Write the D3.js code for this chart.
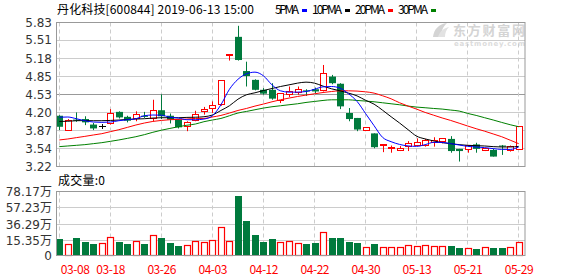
<!DOCTYPE html>
<html>
<head>
<meta charset="utf-8">
<script src="https://cdnjs.cloudflare.com/ajax/libs/d3/7.8.5/d3.min.js"></script>
<style>
  body { margin: 0; background: #fff; }
  svg { display: block; }
</style>
</head>
<body>
<div id="chart"></div>
<script>
// trading days shown on the chart
var dates = ["03-08","03-11","03-12","03-13","03-14","03-15","03-18","03-19","03-20","03-21","03-22",
  "03-25","03-26","03-27","03-28","03-29","04-01","04-02","04-03","04-04","04-08","04-09","04-10",
  "04-11","04-12","04-15","04-16","04-17","04-18","04-19","04-22","04-23","04-24","04-25","04-26",
  "04-29","04-30","05-06","05-07","05-08","05-09","05-10","05-13","05-14","05-15","05-16","05-17",
  "05-20","05-21","05-22","05-23","05-24","05-27","05-28","05-29"];

var openP  = [4.14,3.88,4.07,4.08,3.98,3.95,4.00,4.21,4.12,4.10,4.14,4.09,4.24,4.14,4.07,3.94,4.07,4.22,4.27,4.33,
  5.24,5.57,4.95,4.79,4.61,4.61,4.42,4.53,4.56,4.60,4.62,4.61,4.85,4.72,4.19,4.10,3.87,3.82,3.59,3.55,
  3.51,3.58,3.61,3.60,3.65,3.66,3.72,3.54,3.52,3.62,3.50,3.52,3.60,3.51,3.54];
var highP  = [4.15,4.08,4.20,4.13,4.01,3.99,4.26,4.22,4.14,4.22,4.21,4.43,4.53,4.18,4.08,4.04,4.23,4.30,4.40,4.77,
  5.25,5.77,5.12,4.80,4.64,4.73,4.55,4.67,4.67,4.62,4.65,5.06,4.88,4.73,4.28,4.10,3.93,3.82,3.62,3.60,
  3.59,3.68,3.73,3.72,3.75,3.73,3.77,3.54,3.60,3.65,3.55,3.54,3.61,3.60,3.95];
var lowP   = [3.88,3.87,4.03,3.97,3.88,3.90,3.98,4.09,4.02,4.04,4.10,4.04,4.08,4.00,3.91,3.86,4.04,4.16,4.19,4.32,
  5.14,5.14,4.67,4.60,4.52,4.43,4.37,4.48,4.52,4.50,4.55,4.58,4.71,4.26,4.04,3.86,3.87,3.55,3.48,3.47,
  3.50,3.50,3.59,3.58,3.58,3.64,3.47,3.31,3.47,3.47,3.50,3.40,3.43,3.49,3.53];
var closeP = [3.94,4.06,4.06,4.02,3.91,3.95,4.18,4.11,4.05,4.17,4.12,4.24,4.13,4.07,3.93,4.02,4.17,4.26,4.33,4.77,
  5.25,5.15,4.86,4.61,4.54,4.45,4.55,4.58,4.62,4.58,4.58,4.91,4.73,4.31,4.08,3.89,3.93,3.57,3.61,3.56,
  3.54,3.63,3.66,3.69,3.69,3.72,3.50,3.50,3.60,3.54,3.54,3.40,3.58,3.58,3.95];

// volume, in 万 shares
var volume = [17.7,10.1,19.0,13.9,11.3,11.3,19.0,13.9,11.3,14.8,11.3,22.5,19.0,12.6,8.8,8.8,14.8,12.6,16.1,31.8,
  14.8,72.7,40.7,22.8,13.9,17.7,13.5,14.8,11.3,11.3,12.6,26.3,19.0,19.0,13.9,12.6,6.2,11.3,7.1,6.2,
  6.2,9.7,7.9,8.8,7.5,7.5,8.8,6.2,5.0,5.0,7.1,6.2,6.2,6.2,12.6];

// moving averages
var ma5  = [4.113,4.117,4.086,4.050,4.026,4.020,4.026,4.050,4.068,4.086,4.140,4.153,4.150,4.113,4.098,4.068,4.068,4.080,4.140,4.340,
  4.620,4.800,4.900,4.930,4.863,4.700,4.592,4.568,4.568,4.579,4.620,4.664,4.670,4.640,4.538,4.400,4.180,3.960,3.748,3.670,
  3.620,3.593,3.585,3.616,3.657,3.657,3.634,3.610,3.585,3.574,3.562,3.544,3.530,3.530,3.574];
var ma10 = [4.037,4.040,4.050,4.052,4.050,4.050,4.055,4.062,4.073,4.080,4.086,4.098,4.104,4.104,4.104,4.110,4.113,4.122,4.153,4.236,
  4.321,4.440,4.520,4.556,4.597,4.634,4.670,4.700,4.731,4.749,4.731,4.677,4.628,4.592,4.550,4.500,4.420,4.350,4.240,4.122,
  4.008,3.887,3.770,3.720,3.683,3.652,3.634,3.616,3.604,3.598,3.592,3.580,3.574,3.574,3.585];
var ma20 = [3.701,3.719,3.743,3.766,3.791,3.815,3.851,3.887,3.929,3.972,4.008,4.037,4.055,4.068,4.073,4.080,4.091,4.091,4.117,4.146,
  4.189,4.236,4.272,4.315,4.352,4.393,4.429,4.460,4.489,4.514,4.538,4.561,4.579,4.592,4.592,4.587,4.574,4.550,4.502,4.447,
  4.375,4.315,4.260,4.200,4.150,4.100,4.055,4.005,3.954,3.905,3.860,3.810,3.760,3.697,3.634];
var ma30 = [3.580,3.592,3.604,3.616,3.634,3.652,3.676,3.701,3.730,3.760,3.797,3.840,3.878,3.910,3.941,3.968,3.990,4.032,4.063,4.091,
  4.140,4.189,4.218,4.249,4.279,4.303,4.321,4.339,4.357,4.381,4.399,4.417,4.429,4.429,4.429,4.417,4.406,4.393,4.375,4.357,
  4.339,4.315,4.297,4.285,4.272,4.261,4.243,4.225,4.182,4.146,4.104,4.063,4.019,3.977,3.941];

var maNames  = ["5PMA", "10PMA", "20PMA", "30PMA"];
var maColors = ["#0000ff", "#000000", "#ff0000", "#008000"];

var priceTicks = [3.22, 3.54, 3.87, 4.20, 4.53, 4.85, 5.18, 5.51, 5.83];
var volTicks   = [15.35, 36.29, 57.23, 78.17];
var dateTicks  = ["03-08","03-18","03-26","04-03","04-12","04-22","04-30","05-13","05-21","05-29"];

var RED = "#ff0000", GREEN = "#007a3d";
var W = 578, H = 276;
var left = 56, right = 525;
var pTop = 22.5, pBot = 166.5;
var vTop = 191.5, vBot = 255.5;

var svg = d3.select("#chart").append("svg")
    .attr("width", W)
    .attr("height", H);

var x = d3.scalePoint().domain(dates).range([59.3, 518.7]);
var y = d3.scaleLinear().domain([3.22, 5.83]).range([pBot, pTop]);
var yv = d3.scaleLinear().domain([-3.6, 78.17]).range([vBot, vTop]);

function px(v) { return Math.round(v - 0.5) + 0.5; }
function col(i) {
    if (closeP[i] > openP[i]) return RED;
    if (closeP[i] < openP[i]) return GREEN;
    return "#000";
}

// ---- title + legend
svg.append("text")
    .attr("x", 57).attr("y", 14)
    .attr("textLength", 197)
    .style("font-family", "'Noto Sans CJK SC', sans-serif")
    .style("font-size", "12px")
    .attr("fill", "#000")
    .text("丹化科技[600844] 2019-06-13 15:00");

var lx = 275;
maNames.forEach(function(n, i) {
    var tw = n.length * 6;
    svg.append("text")
        .attr("x", lx).attr("y", 14)
        .attr("textLength", tw)
        .style("font-family", "'Noto Sans CJK SC', sans-serif")
        .style("font-size", "12px")
        .text(n);
    svg.append("rect")
        .attr("x", lx + tw + 3).attr("y", 9)
        .attr("width", 5).attr("height", 3)
        .attr("fill", maColors[i]);
    lx += tw + 13;
});

// ---- watermark
var wm = svg.append("g").attr("fill", "#d4d4d4");
wm.append("path").attr("d", "M433,37 C434,29 439,24 447,23 C443,27 441,31 441,37 Z");
wm.append("path").attr("d", "M438,37 C440,31 444,28 449,27 C446,30 445,33 445,37 Z").attr("fill", "#e2e2e2");
wm.append("text").attr("x", 453).attr("y", 35)
    .style("font-family", "'Noto Sans CJK SC', sans-serif").style("font-size", "13px").style("font-weight", "bold")
    .attr("textLength", 72)
    .text("东方财富网");
wm.append("text").attr("x", 454).attr("y", 46)
    .style("font-family", "'DejaVu Sans', sans-serif").style("font-size", "7px").style("font-weight", "bold")
    .attr("textLength", 71).attr("fill", "#dcdcdc")
    .text("eastmoney.com");

// ---- price panel grid
var pg = svg.append("g");
pg.selectAll(".hg").data(priceTicks).enter().append("line")
    .attr("x1", left).attr("x2", right)
    .attr("y1", function(d) { return px(y(d)); })
    .attr("y2", function(d) { return px(y(d)); })
    .attr("stroke", function(d, i) { return i == 4 ? "#999" : "#ccc"; });
pg.selectAll(".vg").data(dateTicks).enter().append("line")
    .attr("x1", function(d) { return px(x(d)); })
    .attr("x2", function(d) { return px(x(d)); })
    .attr("y1", pTop).attr("y2", pBot)
    .attr("stroke", "#ccc").attr("stroke-dasharray", "4,3");

// price axis labels
var yAxis = d3.axisLeft(y).tickValues(priceTicks).tickSize(0).tickPadding(4)
    .tickFormat(function(d) { return d.toFixed(2); });
var ya = svg.append("g").attr("transform", "translate(" + left + ",0)").call(yAxis);
ya.select(".domain").remove();
ya.selectAll("text")
    .style("font-family", "'DejaVu Sans', sans-serif").style("font-size", "12px").attr("fill", "#333");

// ---- volume panel grid
var vg = svg.append("g");
vg.selectAll(".hg").data(volTicks).enter().append("line")
    .attr("x1", left).attr("x2", right)
    .attr("y1", function(d) { return px(yv(d)); })
    .attr("y2", function(d) { return px(yv(d)); })
    .attr("stroke", "#ccc");
vg.selectAll(".vg").data(dateTicks).enter().append("line")
    .attr("x1", function(d) { return px(x(d)); })
    .attr("x2", function(d) { return px(x(d)); })
    .attr("y1", vTop).attr("y2", vBot)
    .attr("stroke", "#ccc").attr("stroke-dasharray", "4,3");

var vAxis = d3.axisLeft(yv).tickValues([-3.6].concat(volTicks)).tickSize(0).tickPadding(4)
    .tickFormat(function(d) { return d < 0 ? "0" : d.toFixed(2) + "万"; });
var va = svg.append("g").attr("transform", "translate(" + left + ",0)").call(vAxis);
va.select(".domain").remove();
va.selectAll("text")
    .style("font-family", "'DejaVu Sans', 'Noto Sans CJK SC', sans-serif").style("font-size", "12px").attr("fill", "#333");

svg.append("text")
    .attr("x", 58).attr("y", 185)
    .attr("textLength", 47)
    .style("font-family", "'Noto Sans CJK SC', sans-serif")
    .style("font-size", "12px")
    .text("成交量:0");

// date axis
var xAxis = d3.axisBottom(x).tickValues(dateTicks).tickSize(0).tickPadding(10);
var xa = svg.append("g").attr("transform", "translate(0," + vBot + ")").call(xAxis);
xa.select(".domain").remove();
xa.selectAll("text")
    .style("font-family", "'Noto Sans CJK SC', sans-serif").style("font-size", "12px")
    .attr("fill", RED)
    .attr("textLength", 29)
    .attr("text-anchor", function(d, i) { return i == 0 ? "start" : "middle"; })
    .attr("dx", function(d, i) { return i == 0 ? 1 : 0; });

// ---- candles
var cg = svg.append("g");
dates.forEach(function(d, i) {
    var cx = Math.round(x(d));
    var c = col(i);
    cg.append("line")
        .attr("x1", cx + 0.5).attr("x2", cx + 0.5)
        .attr("y1", y(highP[i])).attr("y2", y(lowP[i]))
        .attr("stroke", c);
    var yt = y(Math.max(openP[i], closeP[i])), yb = y(Math.min(openP[i], closeP[i]));
    if (c == RED) {
        cg.append("rect")
            .attr("x", cx - 2.5).attr("y", px(yt))
            .attr("width", 6).attr("height", Math.max(1, Math.round(yb - yt)))
            .attr("fill", "#fff").attr("stroke", RED);
    } else if (c == GREEN) {
        cg.append("rect")
            .attr("x", cx - 3).attr("y", yt)
            .attr("width", 7).attr("height", Math.max(1, yb - yt))
            .attr("fill", GREEN);
    } else {
        cg.append("line")
            .attr("x1", cx - 3).attr("x2", cx + 4)
            .attr("y1", px(yt)).attr("y2", px(yt))
            .attr("stroke", c);
    }
});

// ---- moving average lines
var ma = [ma5, ma10, ma20, ma30];
var line = d3.line()
    .x(function(d, i) { return x(dates[i]); })
    .y(function(d) { return y(d); })
    .curve(d3.curveMonotoneX);
ma.slice().reverse().forEach(function(s, k) {
    svg.append("path")
        .attr("d", line(s))
        .attr("fill", "none")
        .attr("stroke", maColors[3 - k])
        .attr("stroke-width", 1);
});

// ---- volume bars
var bg = svg.append("g");
dates.forEach(function(d, i) {
    var cx = Math.round(x(d));
    var up = closeP[i] >= openP[i];
    var top = yv(volume[i]);
    if (up) {
        bg.append("rect")
            .attr("x", cx - 2.5).attr("y", px(top))
            .attr("width", 6).attr("height", vBot - px(top))
            .attr("fill", "#fff").attr("stroke", RED).attr("stroke-width", 1.2);
    } else {
        bg.append("rect")
            .attr("x", cx - 3).attr("y", Math.round(top))
            .attr("width", 7).attr("height", vBot - Math.round(top))
            .attr("fill", GREEN);
    }
});

// ---- frames
svg.append("rect")
    .attr("x", left + 0.5).attr("y", pTop)
    .attr("width", right - left - 0.5).attr("height", pBot - pTop)
    .attr("fill", "none").attr("stroke", "#999");
svg.append("rect")
    .attr("x", left + 0.5).attr("y", vTop)
    .attr("width", right - left - 0.5).attr("height", vBot - vTop)
    .attr("fill", "none").attr("stroke", "#999");
</script>
</body>
</html>
